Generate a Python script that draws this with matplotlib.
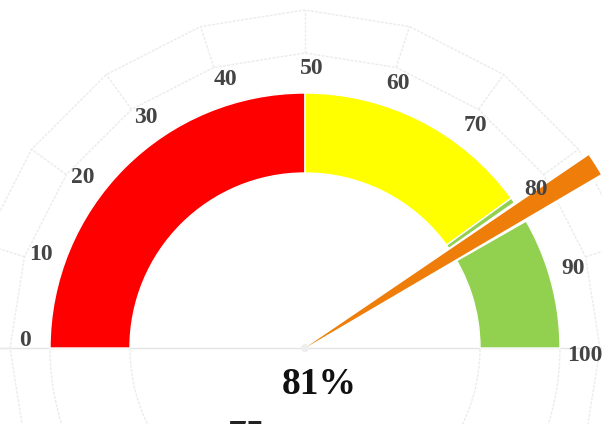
import numpy as np
import matplotlib.pyplot as plt
from matplotlib.patches import Wedge, Circle, Polygon

# gauge data
band_starts = [0, 50, 80]
band_ends = [50, 80, 100]
band_colors = ['#ff0000', '#ffff00', '#92d050']
tick_values = [0, 10, 20, 30, 40, 50, 60, 70, 80, 90, 100]
tick_labels = ['0', '10', '20', '30', '40', '50', '60', '70', '80', '90', '100']
value = 81
value_label = '81%'
sub_label = '75'

# converts a gauge value (0-100) to an angle in degrees
def to_angle(v):
    return 180.0 - 1.8 * v

def main():
    fig = plt.figure(figsize=(6.02, 4.24), dpi=100)
    ax = fig.add_axes([0, 0, 1, 1])
    ax.set_xlim(-305, 297)
    ax.set_ylim(-76, 348)
    ax.set_aspect('equal')
    ax.axis('off')

    grid = '#ebebeb'
    # faint background grid
    ax.axhline(0, color='#e4e4e4', lw=1, zorder=0)
    for r in [175, 255]:
        ax.add_patch(Circle((0, 0), r, fill=False, ec=grid, lw=1, ls=(0, (2, 1)), zorder=0))
    spoke_ang = np.radians(np.arange(0, 360, 18))
    for r in [295, 338]:
        pts = np.column_stack([r * np.cos(spoke_ang), r * np.sin(spoke_ang)])
        ax.add_patch(Polygon(pts, closed=True, fill=False, ec=grid, lw=1, ls=(0, (2, 1)), zorder=0))
    for a in spoke_ang:
        ax.plot([295 * np.cos(a), 338 * np.cos(a)], [295 * np.sin(a), 338 * np.sin(a)],
                color=grid, lw=1, ls=(0, (2, 1)), zorder=0)

    # colour bands
    for s, e, c in zip(band_starts, band_ends, band_colors):
        ax.add_patch(Wedge((0, 0), 255, to_angle(e), to_angle(s), width=80,
                           fc=c, ec='white', lw=1, zorder=2))

    # needle, with a white halo cut into the bands
    ax.add_patch(Wedge((0, 0), 345, to_angle(value + 2.5), to_angle(value - 0.4),
                       fc='white', ec='none', zorder=3))
    ax.add_patch(Wedge((0, 0), 343, to_angle(value + 2.1), to_angle(value),
                       fc='#ee7d0a', ec='none', zorder=4))
    ax.add_patch(Circle((0, 0), 4, fc='#eeeeee', ec='none', zorder=5))

    # tick labels
    for v, t in zip(tick_values, tick_labels):
        a = np.radians(to_angle(v + 0.8))
        ax.text(280 * np.cos(a), 280 * np.sin(a), t, ha='center', va='center',
                fontsize=17, fontweight='bold', family='Liberation Serif', color='#444444', zorder=6)

    ax.text(14, -36, value_label, ha='center', va='center', fontsize=27,
            fontweight='bold', family='Liberation Serif', color='#111111', zorder=6)
    ax.text(-58, -88, sub_label, ha='center', va='center', fontsize=27,
            fontweight='bold', family='Liberation Serif', color='#222222', zorder=6)

    fig.savefig('out.png', dpi=100)

if __name__ == "__main__":
    main()
